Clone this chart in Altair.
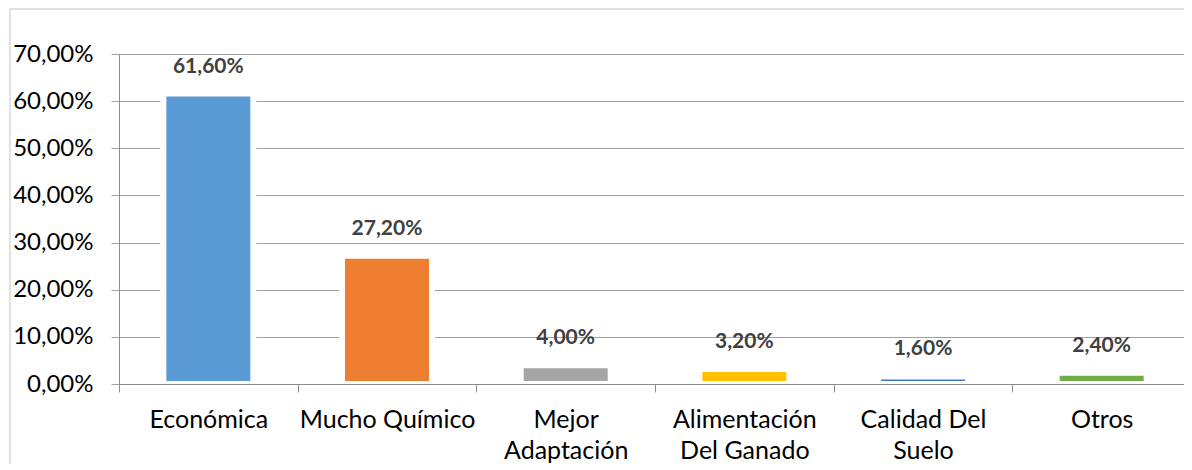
import altair as alt
import pandas as pd

categories = ["Económica", "Mucho Químico", "Mejor\nAdaptación",
              "Alimentación\nDel Ganado", "Calidad Del\nSuelo", "Otros"]
values = [0.616, 0.272, 0.040, 0.032, 0.016, 0.024]
colors = ["#5B9BD5", "#ED7D31", "#A5A5A5", "#FFC000", "#4472C4", "#70AD47"]
y_ticks = [0.0, 0.1, 0.2, 0.3, 0.4, 0.5, 0.6, 0.7]

df = pd.DataFrame({"cat": categories, "val": values})
df["label"] = [f"{v * 100:.2f}%".replace(".", ",") for v in values]

FONT = "Lato"
W, H = 1065, 330

x_enc = alt.X(
    "cat:N", sort=categories,
    scale=alt.Scale(range=[0, 1072], paddingInner=0, paddingOuter=0),
    axis=alt.Axis(
        title=None, labelAngle=0, labelExpr="split(datum.label, '\\n')",
        tickBand="extent", tickSize=8, tickColor="#8c8c8c",
        domainColor="#8c8c8c", labelFont=FONT, labelFontSize=25,
        labelColor="#000000", labelPadding=15, labelLineHeight=31,
        grid=False, zindex=1,
    ),
)
y_enc = alt.Y(
    "val:Q",
    scale=alt.Scale(domain=[0, 0.7], nice=False),
    axis=alt.Axis(
        title=None, values=y_ticks,
        labelExpr="replace(format(datum.value, '.2%'), '.', ',')",
        grid=True, gridColor="#a0a0a0", domainColor="#8c8c8c",
        tickColor="#a0a0a0", tickSize=8, labelPadding=18,
        labelFont=FONT, labelFontSize=24, labelColor="#000000", zindex=0,
    ),
)

base = alt.Chart(df)

bars = base.mark_bar(size=90, stroke="white", strokeWidth=6).encode(
    x=x_enc, y=y_enc,
    color=alt.Color("cat:N", scale=alt.Scale(domain=categories, range=colors),
                    legend=None),
)

texts = base.mark_text(
    dy=-27, baseline="middle", font=FONT, fontSize=21, fontWeight="bold",
    color="#404040",
).encode(x=alt.X("cat:N", sort=categories), y="val:Q", text="label:N")

border = alt.Chart(pd.DataFrame({"a": [0]})).mark_rect(
    fillOpacity=0, stroke="#d9d9d9", strokeWidth=1.5,
).encode(
    x=alt.value(-109), x2=alt.value(W + 40),
    y=alt.value(-45), y2=alt.value(H + 200),
)

chart = alt.layer(border, bars, texts).properties(
    width=W, height=H,
    autosize=alt.AutoSizeParams(type="none"),
    padding={"left": 111, "top": 46, "right": 0, "bottom": 80},
).configure_view(stroke=None)

chart.save("out.html", embed_options={"renderer": "svg", "actions": False})
